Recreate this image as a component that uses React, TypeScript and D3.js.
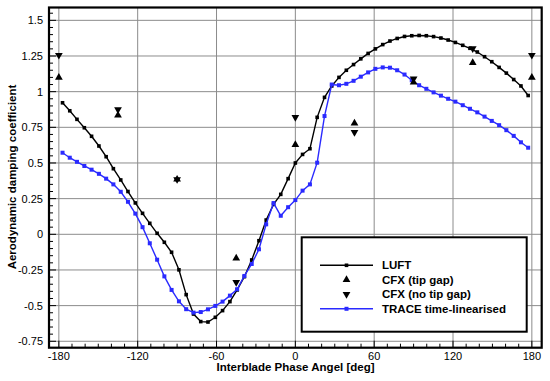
import * as d3 from 'd3';
import React from 'react';

// interblade phase angles (deg) of the computed points
const ibpa = [
  -177.2, -171.7, -166.2, -160.6, -155.1, -149.5, -144.0, -138.5, -132.9, -127.4, -121.8,
  -116.3, -110.8, -105.2, -99.7, -94.2, -88.6, -83.1, -77.5, -72.0, -66.5, -60.9, -55.4,
  -49.8, -44.3, -38.8, -33.2, -27.7, -22.2, -16.6, -11.1, -5.5, 0, 5.5, 11.1, 16.6, 22.2,
  27.7, 33.2, 38.8, 44.3, 49.8, 55.4, 60.9, 66.5, 72.0, 77.5, 83.1, 88.6, 94.2, 99.7,
  105.2, 110.8, 116.3, 121.8, 127.4, 132.9, 138.5, 144.0, 149.5, 155.1, 160.6, 166.2,
  171.7, 177.2,
];

const luft = [
  0.922, 0.866, 0.806, 0.747, 0.687, 0.619, 0.544, 0.46, 0.381, 0.3, 0.22, 0.147, 0.077,
  0.007, -0.056, -0.126, -0.249, -0.423, -0.559, -0.612, -0.615, -0.582, -0.535, -0.472,
  -0.39, -0.297, -0.18, -0.045, 0.1, 0.21, 0.28, 0.39, 0.5, 0.56, 0.6, 0.82, 0.96, 1.04,
  1.1, 1.15, 1.19, 1.23, 1.268, 1.3, 1.33, 1.355, 1.373, 1.387, 1.392, 1.394, 1.392,
  1.386, 1.376, 1.362, 1.345, 1.325, 1.304, 1.278, 1.245, 1.21, 1.17, 1.13, 1.085, 1.04,
  0.973,
];

const trace = [
  0.572, 0.537, 0.508, 0.479, 0.453, 0.424, 0.39, 0.35, 0.298, 0.228, 0.145, 0.05, -0.063,
  -0.178, -0.295, -0.39, -0.47, -0.525, -0.549, -0.545, -0.526, -0.502, -0.472, -0.43,
  -0.385, -0.292, -0.208, -0.105, 0.07, 0.219, 0.13, 0.19, 0.24, 0.306, 0.35, 0.502,
  0.829, 1.05, 1.045, 1.055, 1.076, 1.105, 1.135, 1.16, 1.17, 1.168, 1.15, 1.12, 1.08,
  1.045, 1.02, 0.995, 0.972, 0.95, 0.93, 0.905, 0.88, 0.855, 0.825, 0.795, 0.765, 0.73,
  0.69, 0.645, 0.607,
];

const cfxAngles = [-180, -135, -90, -45, 0, 45, 90, 135, 180];
const cfxTipGap = [1.1, 0.835, 0.385, -0.168, 0.628, 0.778, 1.065, 1.203, 1.1];
const cfxNoTipGap = [1.256, 0.875, 0.385, -0.336, 0.82, 0.715, 1.09, 1.303, 1.256];

const xTicks = [-180, -120, -60, 0, 60, 120, 180];
const yTicks = [-0.75, -0.5, -0.25, 0, 0.25, 0.5, 0.75, 1, 1.25, 1.5];

const legendItems = ['LUFT', 'CFX (tip gap)', 'CFX (no tip gap)', 'TRACE time-linearised'];

const width = 550;
const height = 381;
const plot = { left: 49, right: 541.7, top: 7.5, bottom: 347.7 };
const blue = '#2a2aff';
const font = "'Liberation Sans', Arial, Helvetica, sans-serif";

export default function App() {
  const x = d3.scaleLinear().domain([-187.5, 187.5]).range([plot.left, plot.right]);
  const y = d3.scaleLinear().domain([-0.795, 1.59]).range([plot.bottom, plot.top]);

  const line = d3
    .line<number>()
    .x((_, i) => x(ibpa[i]))
    .y(d => y(d));

  const tri = d3.symbol(d3.symbolTriangle, 26)()!;

  const xMinor = d3.range(-180, 181, 10);
  const yMinor = d3.range(-0.75, 1.5501, 0.05);

  const up = (cx: number, cy: number, k: string) => (
    <path key={k} d={tri} transform={`translate(${cx},${cy})`} fill="#000" />
  );
  const down = (cx: number, cy: number, k: string) => (
    <path key={k} d={tri} transform={`translate(${cx},${cy}) rotate(180)`} fill="#000" />
  );

  const legend = { x0: 301.7, x1: 526.7, y0: 237.3, y1: 331.7 };
  const rowY = (i: number) => 265.3 + i * 14.5;

  return (
    <svg
      width={width}
      height={height}
      style={{ position: 'absolute', left: 0, top: 0, background: '#fff' }}
      fontFamily={font}
    >
      {/* grid */}
      <g stroke="#8c8c8c" strokeWidth={1}>
        {xTicks.map(t => (
          <line key={'gx' + t} x1={x(t)} x2={x(t)} y1={plot.top} y2={plot.bottom} />
        ))}
        {yTicks.map(t => (
          <line key={'gy' + t} x1={plot.left} x2={plot.right} y1={y(t)} y2={y(t)} />
        ))}
      </g>

      {/* ticks, pointing inward */}
      <g stroke="#000" strokeWidth={1}>
        {xMinor.map(t => (
          <line
            key={'tx' + t}
            x1={x(t)}
            x2={x(t)}
            y1={plot.bottom}
            y2={plot.bottom - (t % 60 === 0 ? 7 : 4)}
          />
        ))}
        {yMinor.map((t, i) => (
          <line
            key={'ty' + i}
            x1={plot.left}
            x2={plot.left + (i % 5 === 0 ? 7 : 4)}
            y1={y(t)}
            y2={y(t)}
          />
        ))}
      </g>

      {/* series */}
      <path d={line(luft)!} fill="none" stroke="#000" strokeWidth={1.4} />
      {luft.map((v, i) => (
        <rect key={'lm' + i} x={x(ibpa[i]) - 1.8} y={y(v) - 1.8} width={3.6} height={3.6} fill="#000" />
      ))}
      <path d={line(trace)!} fill="none" stroke={blue} strokeWidth={1.4} />
      {trace.map((v, i) => (
        <rect key={'tm' + i} x={x(ibpa[i]) - 2} y={y(v) - 2} width={4} height={4} fill={blue} />
      ))}
      {cfxAngles.map((a, i) => up(x(a), y(cfxTipGap[i]), 'u' + i))}
      {cfxAngles.map((a, i) => down(x(a), y(cfxNoTipGap[i]), 'd' + i))}

      {/* frame */}
      <rect
        x={plot.left}
        y={plot.top}
        width={plot.right - plot.left}
        height={plot.bottom - plot.top}
        fill="none"
        stroke="#000"
        strokeWidth={2.2}
      />

      {/* tick labels */}
      <g fontSize={11} fill="#000">
        {xTicks.map(t => (
          <text key={'lx' + t} x={x(t)} y={360} textAnchor="middle">
            {t}
          </text>
        ))}
        {yTicks.map(t => (
          <text key={'ly' + t} x={43} y={y(t)} dy="0.36em" textAnchor="end">
            {t}
          </text>
        ))}
      </g>

      {/* axis titles */}
      <text x={295.5} y={371} textAnchor="middle" fontSize={11.5} fontWeight="bold">
        Interblade Phase Angel [deg]
      </text>
      <text
        transform={`translate(16,${177}) rotate(-90)`}
        textAnchor="middle"
        fontSize={11.5}
        fontWeight="bold"
      >
        Aerodynamic damping coefficient
      </text>

      {/* legend */}
      <rect
        x={legend.x0}
        y={legend.y0}
        width={legend.x1 - legend.x0}
        height={legend.y1 - legend.y0}
        fill="#fff"
        stroke="#000"
        strokeWidth={2}
      />
      <line x1={320} x2={373} y1={rowY(0)} y2={rowY(0)} stroke="#000" strokeWidth={1.4} />
      <rect x={346.5 - 1.8} y={rowY(0) - 1.8} width={3.6} height={3.6} fill="#000" />
      {up(346.5, rowY(1), 'lu')}
      {down(346.5, rowY(2), 'ld')}
      <line x1={320} x2={373} y1={rowY(3)} y2={rowY(3)} stroke={blue} strokeWidth={1.4} />
      <rect x={346.5 - 2} y={rowY(3) - 2} width={4} height={4} fill={blue} />
      {legendItems.map((s, i) => (
        <text key={s} x={382} y={rowY(i) + 4} fontSize={11.5} fontWeight="bold">
          {s}
        </text>
      ))}
    </svg>
  );
}
